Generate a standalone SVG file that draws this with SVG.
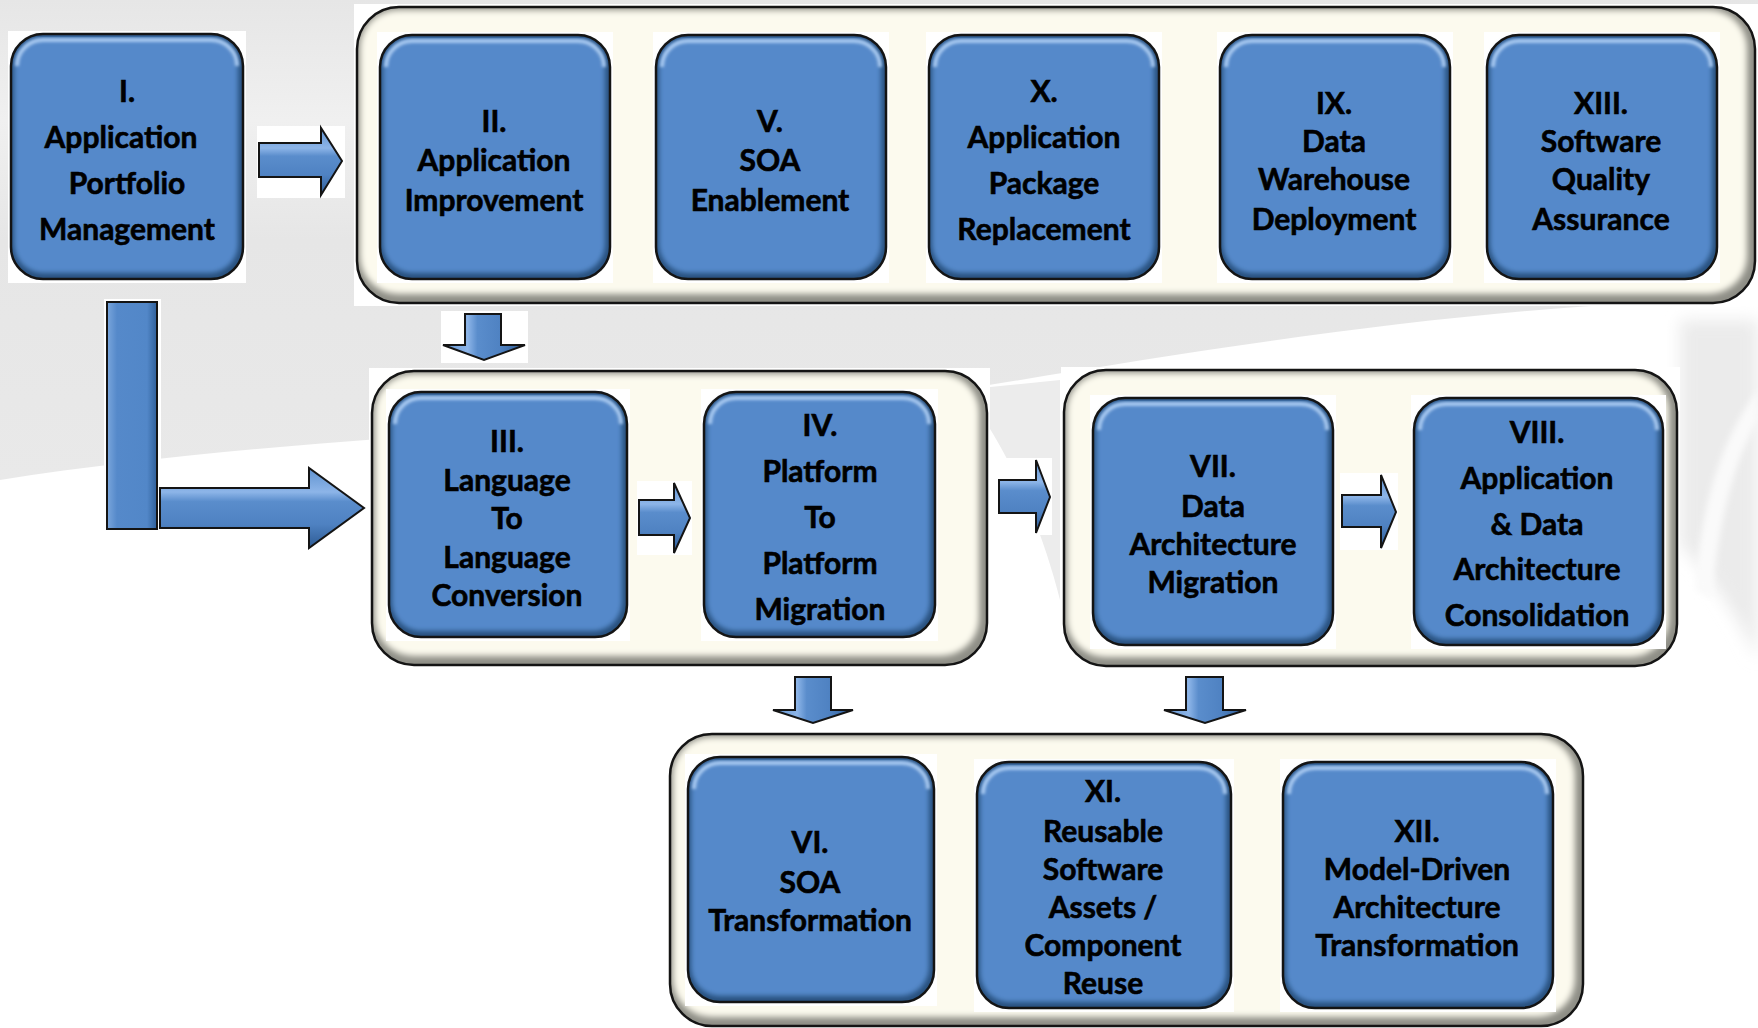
<svg xmlns="http://www.w3.org/2000/svg" width="1758" height="1028" viewBox="0 0 1758 1028">
<defs>
<style>
.wbg{fill:#ffffff}
.csh{fill:#8e8e86}
.cf{fill:#FCFAEE;filter:url(#b3)}
.co{fill:none;stroke:#141414;stroke-width:2.5}
.nsh{fill:#28517f}
.nf{fill:#5589CA;filter:url(#b2)}
.nhl{fill:none;stroke:#a9caf2;stroke-width:4;filter:url(#b1)}
.no{fill:none;stroke:#141414;stroke-width:2.5}
.t{font-family:Lato,"Liberation Sans",sans-serif;font-weight:700;font-size:30px;fill:#000;stroke:#000;stroke-width:0.6;text-anchor:middle;dominant-baseline:central}
.ar{fill:url(#gR);stroke:#141414;stroke-width:2;stroke-linejoin:miter}
.ad{fill:url(#gD);stroke:#141414;stroke-width:2;stroke-linejoin:miter}
</style>
<filter id="b1" x="-10%" y="-10%" width="120%" height="120%"><feGaussianBlur stdDeviation="1.5"/></filter>
<filter id="b2" x="-10%" y="-10%" width="120%" height="120%"><feGaussianBlur stdDeviation="2.5"/></filter>
<filter id="b3" x="-10%" y="-10%" width="120%" height="120%"><feGaussianBlur stdDeviation="3"/></filter>
<filter id="b8" x="-20%" y="-20%" width="140%" height="140%"><feGaussianBlur stdDeviation="8"/></filter>
<linearGradient id="gR" x1="0" y1="0" x2="0" y2="1">
<stop offset="0" stop-color="#5f92d0"/><stop offset="0.3" stop-color="#8db5e8"/><stop offset="0.42" stop-color="#5a8dcc"/><stop offset="0.7" stop-color="#4f82c2"/><stop offset="1" stop-color="#2d5b94"/>
</linearGradient>
<linearGradient id="gD" x1="0" y1="0" x2="1" y2="0">
<stop offset="0" stop-color="#5f92d0"/><stop offset="0.3" stop-color="#8db5e8"/><stop offset="0.42" stop-color="#5a8dcc"/><stop offset="0.7" stop-color="#4f82c2"/><stop offset="1" stop-color="#2d5b94"/>
</linearGradient>
<linearGradient id="gB" x1="0" y1="0" x2="1" y2="0">
<stop offset="0" stop-color="#7aa6dc"/><stop offset="0.2" stop-color="#5589CA"/><stop offset="0.8" stop-color="#5287c8"/><stop offset="1" stop-color="#30609a"/>
</linearGradient>
<linearGradient id="bgG" x1="0" y1="0" x2="0" y2="1">
<stop offset="0" stop-color="#e6e6e6"/><stop offset="0.25" stop-color="#f0f0f0"/><stop offset="0.5" stop-color="#e6e6e6"/><stop offset="1" stop-color="#e9e9e9"/>
</linearGradient>
</defs>

<g id="background">
<rect x="0" y="0" width="1758" height="1028" fill="#ffffff"/>
<path d="M0,0 H1758 V300 C1500,300 1200,350 960,390 C650,430 320,430 0,480 Z" fill="url(#bgG)"/>
<path d="M1680,320 H1758 V660 C1735,610 1705,570 1680,545 Z" fill="#ebebeb" filter="url(#b8)"/>
<path d="M1758,390 C1720,440 1700,510 1695,590 L1712,600 C1718,520 1735,460 1758,420 Z" fill="#fafafa" filter="url(#b3)"/>
<path d="M960,390 C1000,430 1040,520 1060,600 L1060,380 Z" fill="#ececec"/>
</g>

<g id="containers">
<g id="group-top">
<rect class="wbg" x="354" y="4" width="1404" height="302"/>
<rect class="csh" x="357" y="7" width="1398" height="296" rx="42"/>
<rect class="cf" x="360" y="10" width="1387" height="284" rx="38"/>
<rect class="co" x="357" y="7" width="1398" height="296" rx="42"/>
</g>
<g id="group-mid-left">
<rect class="wbg" x="369" y="368" width="621" height="300"/>
<rect class="csh" x="372" y="371" width="615" height="294" rx="42"/>
<rect class="cf" x="375" y="374" width="604" height="282" rx="38"/>
<rect class="co" x="372" y="371" width="615" height="294" rx="42"/>
</g>
<g id="group-mid-right">
<rect class="wbg" x="1061" y="367" width="619" height="302"/>
<rect class="csh" x="1064" y="370" width="613" height="296" rx="42"/>
<rect class="cf" x="1067" y="373" width="602" height="284" rx="38"/>
<rect class="co" x="1064" y="370" width="613" height="296" rx="42"/>
</g>
<g id="group-bottom">
<rect class="wbg" x="667" y="731" width="919" height="297"/>
<rect class="csh" x="670" y="734" width="913" height="292" rx="42"/>
<rect class="cf" x="673" y="737" width="902" height="280" rx="38"/>
<rect class="co" x="670" y="734" width="913" height="292" rx="42"/>
</g>
</g>

<g id="connectors">
<rect class="wbg" x="257" y="126" width="88" height="72"/>
<path class="ar" d="M259,143 H321 V128 L342,161 L321,195 V177 H259 Z"/>
<rect class="wbg" x="441" y="311" width="87" height="52"/>
<path class="ad" d="M465,314 H501 V345 H525 L484,360 L443,345 H465 Z"/>
<rect class="wbg" x="104" y="299" width="57" height="233"/>
<rect x="107" y="302" width="50" height="227" fill="url(#gB)" stroke="#141414" stroke-width="2"/>
<rect class="wbg" x="158" y="465" width="209" height="86"/>
<path class="ar" d="M160,488 H309 V468 L364,508 L309,548 V528 H160 Z"/>
<rect class="wbg" x="637" y="481" width="55" height="74"/>
<path class="ar" d="M639,500 H674 V483 L690,518 L674,553 V535 H639 Z"/>
<rect class="wbg" x="997" y="458" width="55" height="77"/>
<path class="ar" d="M999,480 H1036 V460 L1050,497 L1036,533 V513 H999 Z"/>
<rect class="wbg" x="1340" y="473" width="58" height="77"/>
<path class="ar" d="M1342,495 H1381 V475 L1396,512 L1381,548 V527 H1342 Z"/>
<rect class="wbg" x="771" y="674" width="84" height="52"/>
<path class="ad" d="M795,677 H831 V710 H853 L813,723 L773,710 H795 Z"/>
<rect class="wbg" x="1162" y="674" width="86" height="52"/>
<path class="ad" d="M1186,677 H1223 V710 H1246 L1205,723 L1164,710 H1186 Z"/>
</g>

<g id="node-I" transform="translate(11,34)">
<rect class="wbg" x="-3" y="-3" width="238" height="252"/>
<rect class="nsh" x="0" y="0" width="232" height="245" rx="32"/>
<rect class="nf" x="3" y="3" width="224" height="236" rx="29"/>
<path class="nhl" d="M6,32 A26,26 0 0 1 32,6 H200 A26,26 0 0 1 226,32"/>
<rect class="no" x="0" y="0" width="232" height="245" rx="32"/>
<text class="t" x="116" y="55.7">I.</text>
<text class="t" x="110" y="101.7">Application</text>
<text class="t" x="116" y="147.6">Portfolio</text>
<text class="t" x="116" y="193.6">Management</text>
</g>

<g id="node-II" transform="translate(380,35)">
<rect class="wbg" x="-3" y="-3" width="236" height="251"/>
<rect class="nsh" x="0" y="0" width="230" height="244" rx="32"/>
<rect class="nf" x="3" y="3" width="222" height="235" rx="29"/>
<path class="nhl" d="M6,32 A26,26 0 0 1 32,6 H198 A26,26 0 0 1 224,32"/>
<rect class="no" x="0" y="0" width="230" height="244" rx="32"/>
<text class="t" x="114" y="85">II.</text>
<text class="t" x="114" y="124.2">Application</text>
<text class="t" x="114" y="163.5">Improvement</text>
</g>

<g id="node-V" transform="translate(656,35)">
<rect class="wbg" x="-3" y="-3" width="236" height="251"/>
<rect class="nsh" x="0" y="0" width="230" height="244" rx="32"/>
<rect class="nf" x="3" y="3" width="222" height="235" rx="29"/>
<path class="nhl" d="M6,32 A26,26 0 0 1 32,6 H198 A26,26 0 0 1 224,32"/>
<rect class="no" x="0" y="0" width="230" height="244" rx="32"/>
<text class="t" x="114" y="85">V.</text>
<text class="t" x="114" y="124.2">SOA</text>
<text class="t" x="114" y="163.5">Enablement</text>
</g>

<g id="node-X" transform="translate(929,35)">
<rect class="wbg" x="-3" y="-3" width="236" height="251"/>
<rect class="nsh" x="0" y="0" width="230" height="244" rx="32"/>
<rect class="nf" x="3" y="3" width="222" height="235" rx="29"/>
<path class="nhl" d="M6,32 A26,26 0 0 1 32,6 H198 A26,26 0 0 1 224,32"/>
<rect class="no" x="0" y="0" width="230" height="244" rx="32"/>
<text class="t" x="115" y="54.7">X.</text>
<text class="t" x="115" y="100.7">Application</text>
<text class="t" x="115" y="146.6">Package</text>
<text class="t" x="115" y="192.6">Replacement</text>
</g>

<g id="node-IX" transform="translate(1220,35)">
<rect class="wbg" x="-3" y="-3" width="236" height="251"/>
<rect class="nsh" x="0" y="0" width="230" height="244" rx="32"/>
<rect class="nf" x="3" y="3" width="222" height="235" rx="29"/>
<path class="nhl" d="M6,32 A26,26 0 0 1 32,6 H198 A26,26 0 0 1 224,32"/>
<rect class="no" x="0" y="0" width="230" height="244" rx="32"/>
<text class="t" x="114" y="67">IX.</text>
<text class="t" x="114" y="105.2">Data</text>
<text class="t" x="114" y="143.3">Warehouse</text>
<text class="t" x="114" y="182.5">Deployment</text>
</g>

<g id="node-XIII" transform="translate(1487,35)">
<rect class="wbg" x="-3" y="-3" width="236" height="251"/>
<rect class="nsh" x="0" y="0" width="230" height="244" rx="32"/>
<rect class="nf" x="3" y="3" width="222" height="235" rx="29"/>
<path class="nhl" d="M6,32 A26,26 0 0 1 32,6 H198 A26,26 0 0 1 224,32"/>
<rect class="no" x="0" y="0" width="230" height="244" rx="32"/>
<text class="t" x="114" y="67">XIII.</text>
<text class="t" x="114" y="105.2">Software</text>
<text class="t" x="114" y="143.3">Quality</text>
<text class="t" x="114" y="182.5">Assurance</text>
</g>

<g id="node-III" transform="translate(389,392)">
<rect class="wbg" x="-3" y="-3" width="244" height="252"/>
<rect class="nsh" x="0" y="0" width="238" height="245" rx="32"/>
<rect class="nf" x="3" y="3" width="230" height="236" rx="29"/>
<path class="nhl" d="M6,32 A26,26 0 0 1 32,6 H206 A26,26 0 0 1 232,32"/>
<rect class="no" x="0" y="0" width="238" height="245" rx="32"/>
<text class="t" x="118" y="47.5">III.</text>
<text class="t" x="118" y="86.7">Language</text>
<text class="t" x="118" y="124.9">To</text>
<text class="t" x="118" y="164.1">Language</text>
<text class="t" x="118" y="202.2">Conversion</text>
</g>

<g id="node-IV" transform="translate(704,392)">
<rect class="wbg" x="-3" y="-3" width="237" height="252"/>
<rect class="nsh" x="0" y="0" width="231" height="245" rx="32"/>
<rect class="nf" x="3" y="3" width="223" height="236" rx="29"/>
<path class="nhl" d="M6,32 A26,26 0 0 1 32,6 H199 A26,26 0 0 1 225,32"/>
<rect class="no" x="0" y="0" width="231" height="245" rx="32"/>
<text class="t" x="116" y="31.8">IV.</text>
<text class="t" x="116" y="77.8">Platform</text>
<text class="t" x="116" y="123.8">To</text>
<text class="t" x="116" y="169.7">Platform</text>
<text class="t" x="116" y="215.7">Migration</text>
</g>

<g id="node-VII" transform="translate(1093,398)">
<rect class="wbg" x="-3" y="-3" width="246" height="254"/>
<rect class="nsh" x="0" y="0" width="240" height="247" rx="32"/>
<rect class="nf" x="3" y="3" width="232" height="238" rx="29"/>
<path class="nhl" d="M6,32 A26,26 0 0 1 32,6 H208 A26,26 0 0 1 234,32"/>
<rect class="no" x="0" y="0" width="240" height="247" rx="32"/>
<text class="t" x="120" y="67.3">VII.</text>
<text class="t" x="120" y="106.5">Data</text>
<text class="t" x="120" y="144.7">Architecture</text>
<text class="t" x="120" y="182.8">Migration</text>
</g>

<g id="node-VIII" transform="translate(1414,398)">
<rect class="wbg" x="-3" y="-3" width="255" height="254"/>
<rect class="nsh" x="0" y="0" width="249" height="247" rx="32"/>
<rect class="nf" x="3" y="3" width="241" height="238" rx="29"/>
<path class="nhl" d="M6,32 A26,26 0 0 1 32,6 H217 A26,26 0 0 1 243,32"/>
<rect class="no" x="0" y="0" width="249" height="247" rx="32"/>
<text class="t" x="123" y="32.5">VIII.</text>
<text class="t" x="123" y="78.5">Application</text>
<text class="t" x="123" y="124.5">&amp; Data</text>
<text class="t" x="123" y="170.4">Architecture</text>
<text class="t" x="123" y="216.4">Consolidation</text>
</g>

<g id="node-VI" transform="translate(688,757)">
<rect class="wbg" x="-3" y="-3" width="252" height="252"/>
<rect class="nsh" x="0" y="0" width="246" height="245" rx="32"/>
<rect class="nf" x="3" y="3" width="238" height="236" rx="29"/>
<path class="nhl" d="M6,32 A26,26 0 0 1 32,6 H214 A26,26 0 0 1 240,32"/>
<rect class="no" x="0" y="0" width="246" height="245" rx="32"/>
<text class="t" x="122" y="84">VI.</text>
<text class="t" x="122" y="124.3">SOA</text>
<text class="t" x="122" y="162.4">Transformation</text>
</g>

<g id="node-XI" transform="translate(977,762)">
<rect class="wbg" x="-3" y="-3" width="260" height="253"/>
<rect class="nsh" x="0" y="0" width="254" height="246" rx="32"/>
<rect class="nf" x="3" y="3" width="246" height="237" rx="29"/>
<path class="nhl" d="M6,32 A26,26 0 0 1 32,6 H222 A26,26 0 0 1 248,32"/>
<rect class="no" x="0" y="0" width="254" height="246" rx="32"/>
<text class="t" x="126" y="28.4">XI.</text>
<text class="t" x="126" y="67.7">Reusable</text>
<text class="t" x="126" y="105.8">Software</text>
<text class="t" x="126" y="143.9">Assets /</text>
<text class="t" x="126" y="182">Component</text>
<text class="t" x="126" y="220.2">Reuse</text>
</g>

<g id="node-XII" transform="translate(1283,762)">
<rect class="wbg" x="-3" y="-3" width="276" height="253"/>
<rect class="nsh" x="0" y="0" width="270" height="246" rx="32"/>
<rect class="nf" x="3" y="3" width="262" height="237" rx="29"/>
<path class="nhl" d="M6,32 A26,26 0 0 1 32,6 H238 A26,26 0 0 1 264,32"/>
<rect class="no" x="0" y="0" width="270" height="246" rx="32"/>
<text class="t" x="134" y="67.7">XII.</text>
<text class="t" x="134" y="105.8">Model-Driven</text>
<text class="t" x="134" y="143.9">Architecture</text>
<text class="t" x="134" y="182">Transformation</text>
</g>
</svg>
